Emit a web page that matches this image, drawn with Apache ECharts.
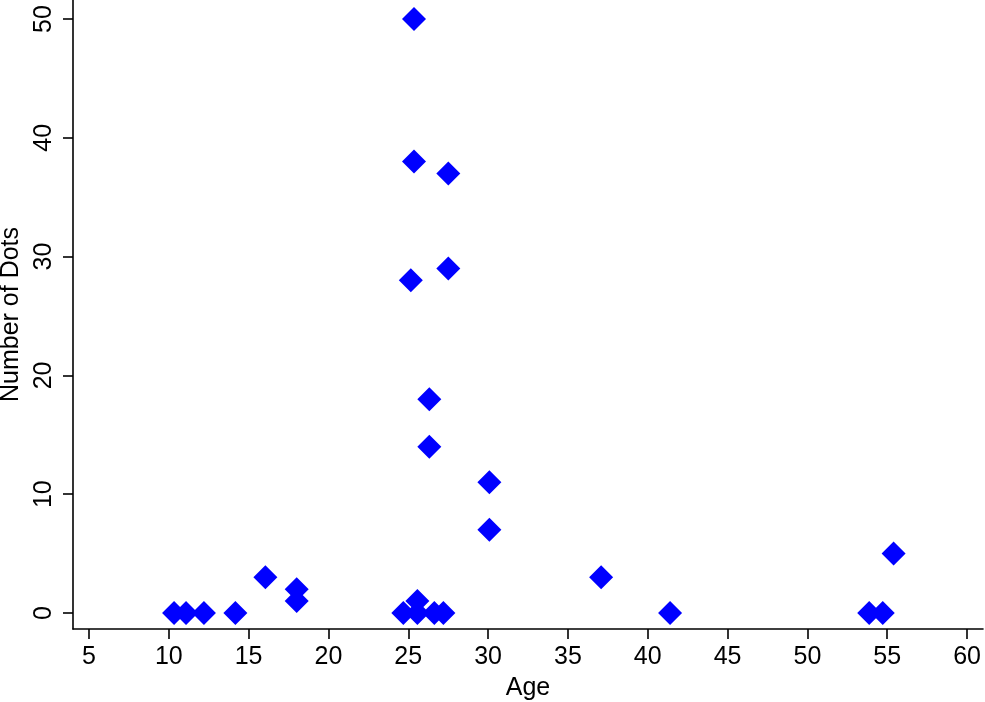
<!DOCTYPE html>
<html>
<head>
<meta charset="utf-8">
<script src="https://cdn.jsdelivr.net/npm/echarts@6/dist/echarts.min.js"></script>
<style>html,body{margin:0;padding:0;background:#fff}#c{width:985px;height:702px}</style>
</head>
<body>
<div id="c"></div>
<script>
var ages = [10.33, 11.08, 12.2, 14.17, 16.05, 18.01, 18.01, 24.69, 25.16, 25.36, 25.36, 25.57, 25.57, 26.32, 26.32, 26.63, 27.2, 27.51, 27.51, 30.08, 30.08, 37.08, 41.4, 53.87, 54.72, 55.4];
var dots = [0, 0, 0, 0, 3, 2, 1, 0, 28, 50, 38, 1, 0, 18, 14, 0, 0, 37, 29, 11, 7, 3, 0, 0, 0, 5];
var xTicks = [5, 10, 15, 20, 25, 30, 35, 40, 45, 50, 55, 60];
var yTicks = [0, 10, 20, 30, 40, 50];

var points = ages.map(function (a, i) { return [a, dots[i]]; });
var font = 'Liberation Sans, Arial, sans-serif';
var chart = echarts.init(document.getElementById('c'), null, {renderer: 'canvas'});
chart.setOption({
  animation: false,
  backgroundColor: '#ffffff',
  grid: {left: 73, right: 2, top: 0, bottom: 73, containLabel: false, outerBoundsMode: 'none'},
  xAxis: {
    type: 'value', min: 4, max: 61,
    name: 'Age', nameLocation: 'middle', nameGap: 47,
    nameTextStyle: {color: '#000', fontSize: 25, fontFamily: font},
    axisLine: {show: true, onZero: false, lineStyle: {color: '#000', width: 1.6}},
    axisTick: {show: true, length: 10, customValues: xTicks, lineStyle: {color: '#000', width: 1.6}},
    axisLabel: {customValues: xTicks, color: '#000', fontSize: 25, fontFamily: font, margin: 16},
    splitLine: {show: false}
  },
  yAxis: {
    type: 'value', min: -1.35, max: 51.6,
    name: 'Number of Dots', nameLocation: 'middle', nameGap: 42, nameRotate: 90,
    nameTextStyle: {color: '#000', fontSize: 25, fontFamily: font},
    axisLine: {show: true, onZero: false, lineStyle: {color: '#000', width: 1.6}},
    axisTick: {show: true, length: 10, customValues: yTicks, lineStyle: {color: '#000', width: 1.6}},
    axisLabel: {customValues: yTicks, rotate: 90, color: '#000', fontSize: 25, fontFamily: font, margin: 16},
    splitLine: {show: false}
  },
  series: [{
    type: 'scatter',
    data: points,
    symbol: 'diamond',
    symbolSize: 24,
    itemStyle: {color: '#0000ff', opacity: 1}
  }]
});
</script>
</body>
</html>
